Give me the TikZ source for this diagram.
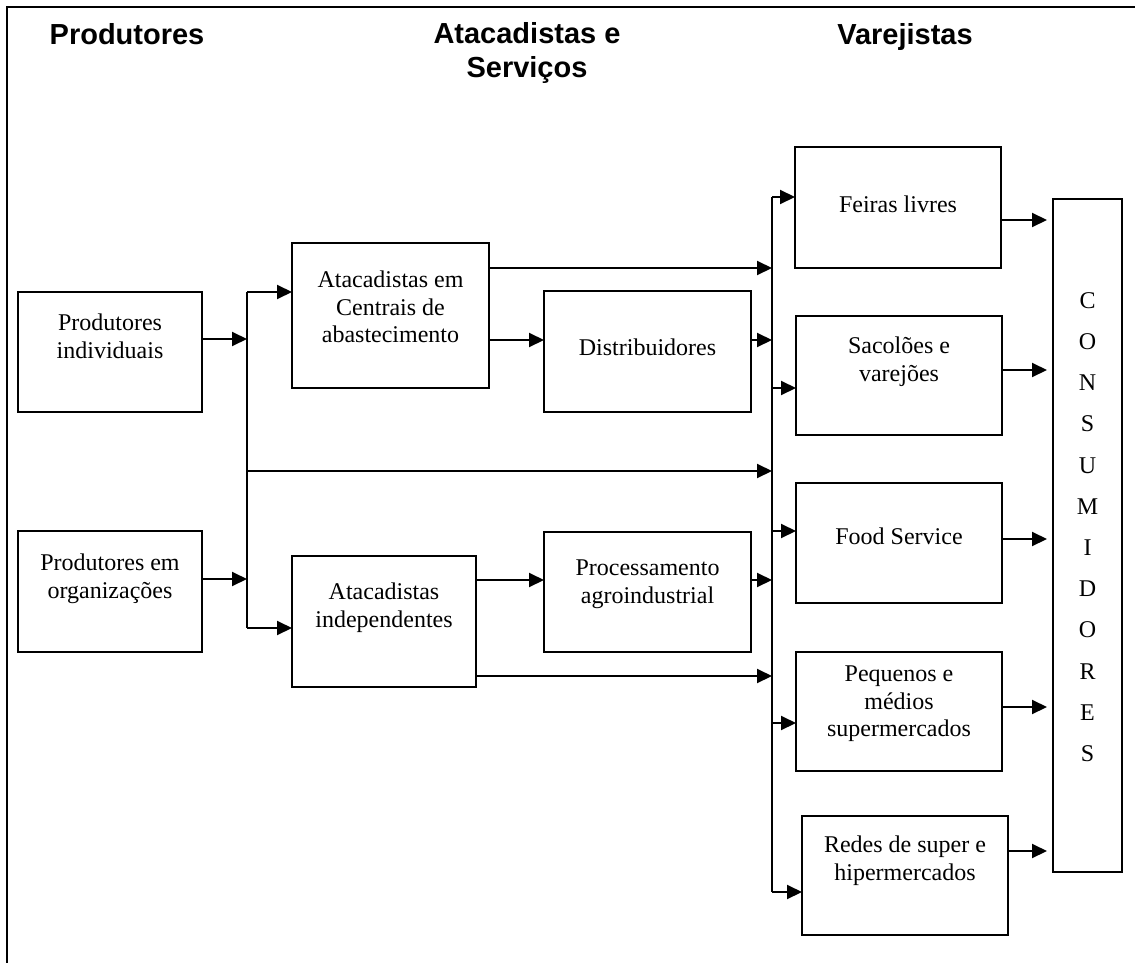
\documentclass[tikz,border=0pt]{standalone}
\usepackage{fontspec}
\setmainfont{Liberation Serif}
\newfontfamily\headfont{Liberation Sans}
\usetikzlibrary{arrows.meta}
\begin{document}
\begin{tikzpicture}[x=1pt,y=-1pt,
  box/.style={draw, line width=2pt, inner sep=0pt, outer sep=0pt, rectangle},
  lbl/.style={align=center, inner sep=0pt, font=\fontsize{24}{27.6}\selectfont},
  head/.style={align=center, inner sep=0pt, font=\headfont\bfseries\fontsize{29}{33.5}\selectfont},
  wire/.style={line width=2pt},
  arr/.style={wire, -{Triangle[length=15pt,width=14pt]}},
]
\useasboundingbox (0,0) rectangle (1135,963);

% frame (top and left edges)
\draw[line width=2.5pt] (7,963) -- (7,7) -- (1135,7);

% column headings
\node[head, anchor=base] (hProd) at (127,45) {Produtores};
\node[head, anchor=center] (hAtac) at (527,53) {Atacadistas e\\Serviços};
\node[head, anchor=base] (hVar) at (905,45) {Varejistas};

% producers
\node[box, minimum width=184pt, minimum height=120pt] (ind) at (110,352) {};
\node[lbl] (t-ind) at (110,336) {Produtores\\individuais};
\node[box, minimum width=184pt, minimum height=121pt] (org) at (110,591.5) {};
\node[lbl] (t-org) at (110,579) {Produtores em\\organizações};

% wholesalers and services
\node[box, minimum width=197pt, minimum height=145pt] (cen) at (390.5,315.5) {};
\node[lbl] (t-cen) at (390.5,307) {Atacadistas em\\Centrais de\\abastecimento};
\node[box, minimum width=207pt, minimum height=121pt] (dist) at (647.5,351.5) {};
\node[lbl] (t-dist) at (647.5,347) {Distribuidores};
\node[box, minimum width=184pt, minimum height=131pt] (indep) at (384,621.5) {};
\node[lbl] (t-indep) at (384,608) {Atacadistas\\independentes};
\node[box, minimum width=207pt, minimum height=120pt] (proc) at (647.5,592) {};
\node[lbl] (t-proc) at (647.5,584) {Processamento\\agroindustrial};

% retailers
\node[box, minimum width=206pt, minimum height=121pt] (feiras) at (898,207.5) {};
\node[lbl] (t-feiras) at (898,204) {Feiras livres};
\node[box, minimum width=206pt, minimum height=119pt] (sac) at (899,375.5) {};
\node[lbl] (t-sac) at (899,362) {Sacolões e\\varejões};
\node[box, minimum width=206pt, minimum height=120pt] (food) at (899,543) {};
\node[lbl] (t-food) at (899,536) {Food Service};
\node[box, minimum width=206pt, minimum height=119pt] (peq) at (899,711.5) {};
\node[lbl] (t-peq) at (899,704) {Pequenos e\\médios\\supermercados};
\node[box, minimum width=206pt, minimum height=119pt] (redes) at (905,875.5) {};
\node[lbl] (t-redes) at (905,861) {Redes de super e\\hipermercados};

% consumers
\node[box, minimum width=69pt, minimum height=673pt] (cons) at (1087.5,535.5) {};
\node[lbl, font=\fontsize{24}{41.2}\selectfont] (t-cons) at (1087.5,527)
  {C\\O\\N\\S\\U\\M\\I\\D\\O\\R\\E\\S};

% first collecting line
\coordinate (b1top) at (247,292);
\coordinate (b1ind) at (247,339);
\coordinate (b1mid) at (247,471);
\coordinate (b1org) at (247,579);
\coordinate (b1bot) at (247,628);

% second collecting line
\coordinate (b2top) at (772,197);
\coordinate (b2a) at (772,268);
\coordinate (b2b) at (772,340);
\coordinate (b2sac) at (772,388);
\coordinate (b2mid) at (772,471);
\coordinate (b2food) at (772,531);
\coordinate (b2d) at (772,580);
\coordinate (b2e) at (772,676);
\coordinate (b2peq) at (772,723);
\coordinate (b2bot) at (772,892);

% arrow ends in front of the consumers box
\coordinate (k1) at (1047,220);
\coordinate (k2) at (1047,370);
\coordinate (k3) at (1047,539);
\coordinate (k4) at (1047,707);
\coordinate (k5) at (1047,851);

% producers to the first line
\draw[arr] (ind.east |- b1ind) -- (b1ind);
\draw[arr] (org.east |- b1org) -- (b1org);
\draw[wire] (b1top) -- (b1bot);
\draw[arr] (b1top) -- (cen.west |- b1top);
\draw[arr] (b1bot) -- (indep.west |- b1bot);
\draw[arr] (b1mid) -- (b2mid);

% wholesalers and services to the second line
\draw[arr] (cen.east |- b2a) -- (b2a);
\draw[arr] (cen.east |- b2b) -- (dist.west |- b2b);
\draw[arr] (dist.east |- b2b) -- (b2b);
\draw[arr] (indep.east |- b2d) -- (proc.west |- b2d);
\draw[arr] (proc.east |- b2d) -- (b2d);
\draw[arr] (indep.east |- b2e) -- (b2e);

% second line to the retailers
\draw[wire] (b2top) -- (b2bot);
\draw[arr] (b2top) -- (feiras.west |- b2top);
\draw[arr] (b2sac) -- (sac.west |- b2sac);
\draw[arr] (b2food) -- (food.west |- b2food);
\draw[arr] (b2peq) -- (peq.west |- b2peq);
\draw[arr] (b2bot) -- (redes.west |- b2bot);

% retailers to consumers
\draw[arr] (feiras.east |- k1) -- (k1);
\draw[arr] (sac.east |- k2) -- (k2);
\draw[arr] (food.east |- k3) -- (k3);
\draw[arr] (peq.east |- k4) -- (k4);
\draw[arr] (redes.east |- k5) -- (k5);
\end{tikzpicture}
\end{document}
